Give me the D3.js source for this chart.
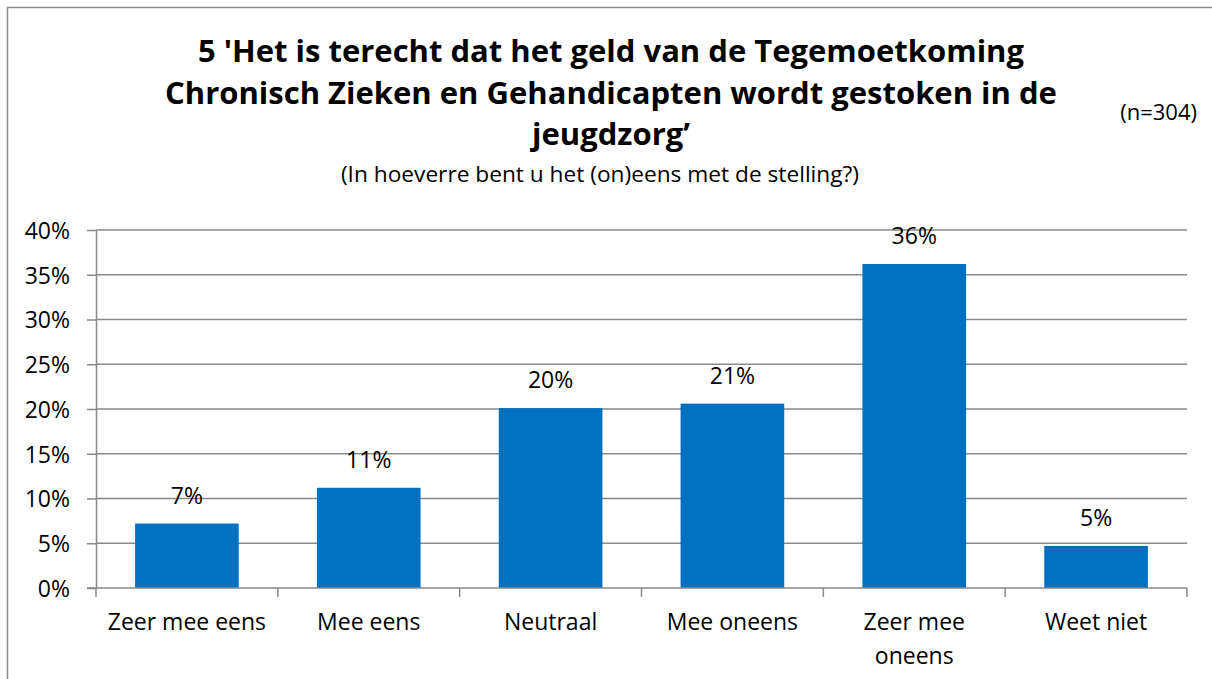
<!DOCTYPE html>
<meta charset="utf-8">
<style>
    body {
        margin: 0;
        background-color: #ffffff;
    }

    svg text {
        font-family: "Open Sans", Lato, sans-serif;
        fill: #000;
    }

    .grid line {
        stroke: #898989;
        stroke-width: 1.5px;
    }

    .axis path, .axis line {
        stroke: #898989;
        stroke-width: 1.5px;
    }
</style>
<svg width="1212" height="679"></svg>

<script src="https://d3js.org/d3.v7.min.js"></script>
<script>
    let categories = [["Zeer mee eens"], ["Mee eens"], ["Neutraal"], ["Mee oneens"], ["Zeer mee", "oneens"], ["Weet niet"]];
    let values = [0.072, 0.112, 0.201, 0.206, 0.362, 0.047];
    let labels = ["7%", "11%", "20%", "21%", "36%", "5%"];
    let yTicks = [0, 0.05, 0.10, 0.15, 0.20, 0.25, 0.30, 0.35, 0.40];
    let titleLines = ["5 'Het is terecht dat het geld van de Tegemoetkoming",
        "Chronisch Zieken en Gehandicapten wordt gestoken in de",
        "jeugdzorg\u2019"];
    let subtitle = "(In hoeverre bent u het (on)eens met de stelling?)";
    let nLabel = "(n=304)";

    let svg = d3.select("svg");

    // outer chart border
    svg.append("rect")
            .attr("x", 7.5).attr("y", 7.5)
            .attr("width", 1220).attr("height", 700)
            .attr("fill", "none")
            .attr("stroke", "#898989")
            .attr("stroke-width", 1.5);

    let plotLeft = 96, plotRight = 1187, plotTop = 230, plotBottom = 588;

    let x = d3.scaleBand()
            .domain(d3.range(categories.length))
            .range([plotLeft, plotRight])
            .paddingInner(0.43)
            .paddingOuter(0.215);

    let y = d3.scaleLinear()
            .domain([0, 0.40])
            .range([plotBottom, plotTop]);

    // gridlines
    svg.append("g")
            .attr("class", "grid")
            .selectAll("line")
            .data(yTicks.slice(1))
            .enter().append("line")
            .attr("x1", plotLeft).attr("x2", plotRight)
            .attr("y1", d => y(d)).attr("y2", d => y(d));

    // y axis
    let yAxis = svg.append("g")
            .attr("class", "axis")
            .attr("transform", `translate(${plotLeft},0)`)
            .call(d3.axisLeft(y).tickValues(yTicks).tickFormat(d3.format(".0%")).tickSize(9).tickSizeOuter(0));
    yAxis.selectAll("text")
            .style("font-size", "23px")
            .attr("x", -26)
            .attr("dy", "0.36em");

    // bars
    svg.append("g")
            .selectAll("rect")
            .data(values)
            .enter().append("rect")
            .attr("x", (d, i) => x(i))
            .attr("width", x.bandwidth())
            .attr("y", d => y(d))
            .attr("height", d => plotBottom - y(d))
            .attr("fill", "#0070c0");

    // data labels
    svg.append("g")
            .selectAll("text")
            .data(values)
            .enter().append("text")
            .attr("x", (d, i) => x(i) + x.bandwidth() / 2)
            .attr("y", d => y(d) - 20)
            .attr("text-anchor", "middle")
            .style("font-size", "23px")
            .text((d, i) => labels[i]);

    // x axis with ticks between categories
    let step = (plotRight - plotLeft) / categories.length;
    let xb = svg.append("g").attr("class", "axis");
    xb.append("line")
            .attr("x1", plotLeft - 9).attr("x2", plotRight)
            .attr("y1", plotBottom).attr("y2", plotBottom);
    xb.selectAll("line.tick")
            .data(d3.range(categories.length + 1))
            .enter().append("line")
            .attr("class", "tick")
            .attr("x1", d => plotLeft + d * step).attr("x2", d => plotLeft + d * step)
            .attr("y1", plotBottom).attr("y2", plotBottom + 9);

    let xl = svg.append("g")
            .selectAll("text")
            .data(categories)
            .enter().append("text")
            .attr("x", (d, i) => x(i) + x.bandwidth() / 2)
            .attr("y", 630)
            .attr("text-anchor", "middle")
            .style("font-size", "23px");
    xl.selectAll("tspan")
            .data(d => d)
            .enter().append("tspan")
            .attr("x", function () { return d3.select(this.parentNode).attr("x"); })
            .attr("dy", (d, i) => i === 0 ? 0 : 34)
            .text(d => d);

    // title
    svg.append("g")
            .selectAll("text")
            .data(titleLines)
            .enter().append("text")
            .attr("x", 611)
            .attr("y", (d, i) => 62 + i * 41.5)
            .attr("text-anchor", "middle")
            .style("font-size", "31px")
            .style("font-weight", "bold")
            .text(d => d);

    svg.append("text")
            .attr("x", 600).attr("y", 182)
            .attr("text-anchor", "middle")
            .style("font-size", "22.7px")
            .text(subtitle);

    svg.append("text")
            .attr("x", 1197).attr("y", 120)
            .attr("text-anchor", "end")
            .style("font-size", "22px")
            .text(nLabel);
</script>
</html>
